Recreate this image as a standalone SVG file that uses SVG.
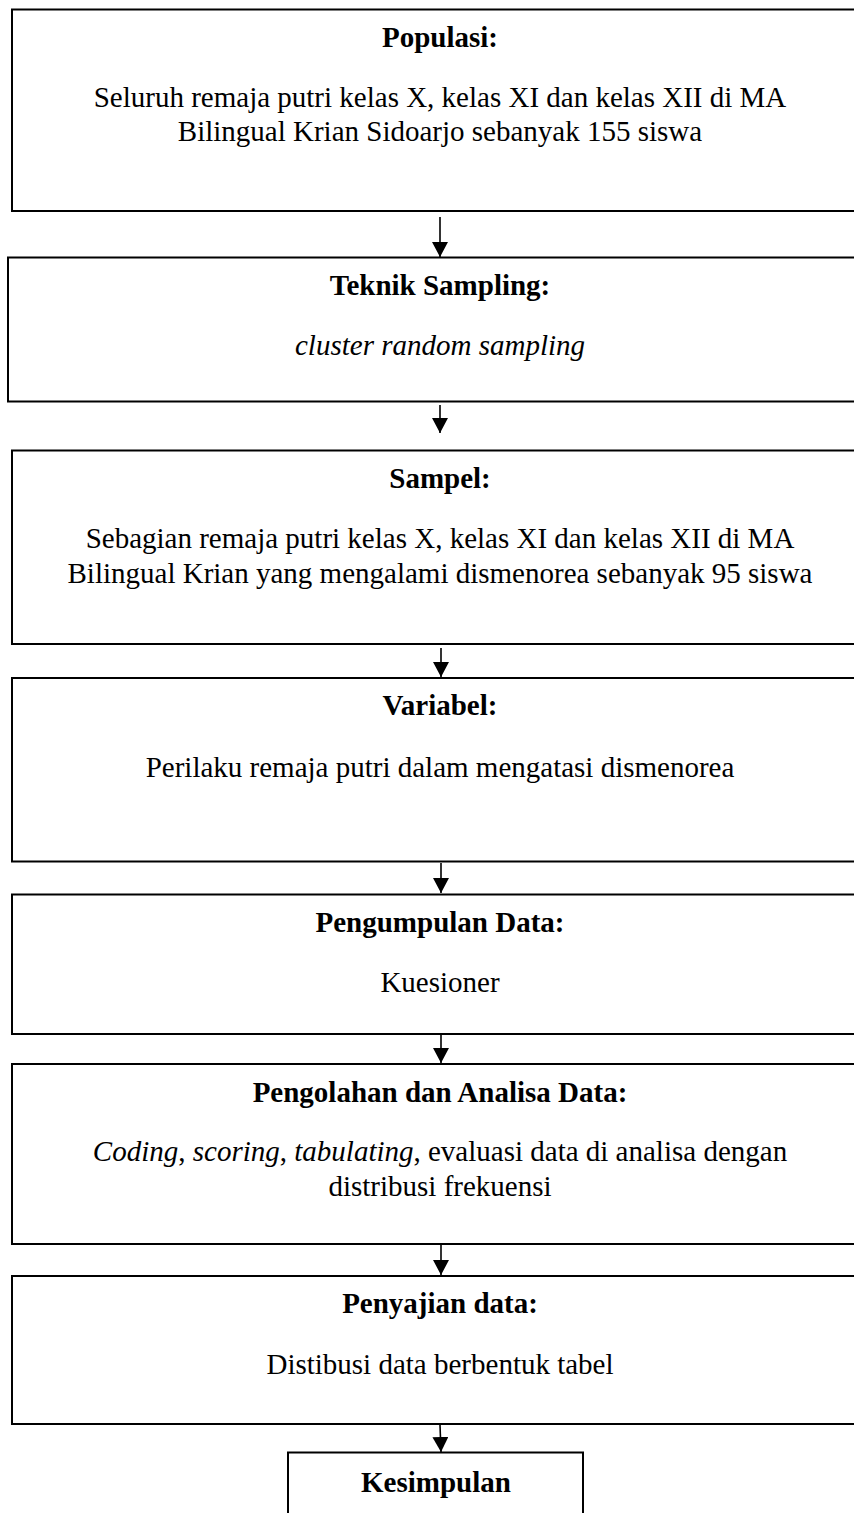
<svg xmlns="http://www.w3.org/2000/svg" width="854" height="1513" viewBox="0 0 854 1513">
<defs>
<style>
.box{fill:#fff;stroke:#000;stroke-width:2}
.t{font-family:"Liberation Serif","Times New Roman",serif;font-size:29px;fill:#000;text-anchor:middle}
.b{font-weight:bold}
.i{font-style:italic}
.c{stroke:#000;stroke-width:1.6;fill:none}
</style>
<marker id="ah" markerWidth="15" markerHeight="16" refX="15" refY="8" orient="auto" markerUnits="userSpaceOnUse" viewBox="0 0 15 16">
<path d="M0,0 L15,8 L0,16 Z" fill="#000"/>
</marker>
</defs>
<rect width="854" height="1513" fill="#fff"/>
<g id="populasi">
<rect class="box" x="12" y="9.5" width="860" height="201.5"/>
<text class="t b" x="440" y="47">Populasi:</text>
<text class="t" x="440" y="106.5">Seluruh remaja putri kelas X, kelas XI dan kelas XII di MA</text>
<text class="t" x="440" y="141">Bilingual Krian Sidoarjo sebanyak 155 siswa</text>
</g>
<g id="teknik-sampling">
<rect class="box" x="8" y="257.5" width="860" height="144"/>
<text class="t b" x="440" y="295">Teknik Sampling:</text>
<text class="t i" x="440" y="355">cluster random sampling</text>
</g>
<g id="sampel">
<rect class="box" x="12" y="450.5" width="860" height="193.5"/>
<text class="t b" x="440" y="488">Sampel:</text>
<text class="t" x="440" y="548">Sebagian remaja putri kelas X, kelas XI dan kelas XII di MA</text>
<text class="t" x="440" y="583">Bilingual Krian yang mengalami dismenorea sebanyak 95 siswa</text>
</g>
<g id="variabel">
<rect class="box" x="12" y="678" width="860" height="183.5"/>
<text class="t b" x="440" y="715">Variabel:</text>
<text class="t" x="440" y="777">Perilaku remaja putri dalam mengatasi dismenorea</text>
</g>
<g id="pengumpulan">
<rect class="box" x="12" y="894.5" width="860" height="139.5"/>
<text class="t b" x="440" y="931.5">Pengumpulan Data:</text>
<text class="t" x="440" y="992">Kuesioner</text>
</g>
<g id="pengolahan">
<rect class="box" x="12" y="1064" width="860" height="180"/>
<text class="t b" x="440" y="1101.5">Pengolahan dan Analisa Data:</text>
<text class="t" x="440" y="1161"><tspan class="i">Coding</tspan>, <tspan class="i">scoring</tspan>, <tspan class="i">tabulating</tspan>, evaluasi data di analisa dengan</text>
<text class="t" x="440" y="1196">distribusi frekuensi</text>
</g>
<g id="penyajian">
<rect class="box" x="12" y="1276" width="860" height="148"/>
<text class="t b" x="440" y="1313">Penyajian data:</text>
<text class="t" x="440" y="1374">Distibusi data berbentuk tabel</text>
</g>
<g id="kesimpulan">
<rect class="box" x="288" y="1452.5" width="295" height="120"/>
<text class="t b" x="436" y="1491.5">Kesimpulan</text>
</g>
<g id="connectors">
<line class="c" x1="440" y1="217" x2="440" y2="257" marker-end="url(#ah)"/>
<line class="c" x1="440" y1="405" x2="440" y2="433" marker-end="url(#ah)"/>
<line class="c" x1="441" y1="648" x2="441" y2="677" marker-end="url(#ah)"/>
<line class="c" x1="441" y1="863" x2="441" y2="893" marker-end="url(#ah)"/>
<line class="c" x1="441" y1="1035" x2="441" y2="1063" marker-end="url(#ah)"/>
<line class="c" x1="441" y1="1245" x2="441" y2="1275" marker-end="url(#ah)"/>
<line class="c" x1="440" y1="1425" x2="441" y2="1452" marker-end="url(#ah)"/>
</g>
</svg>
